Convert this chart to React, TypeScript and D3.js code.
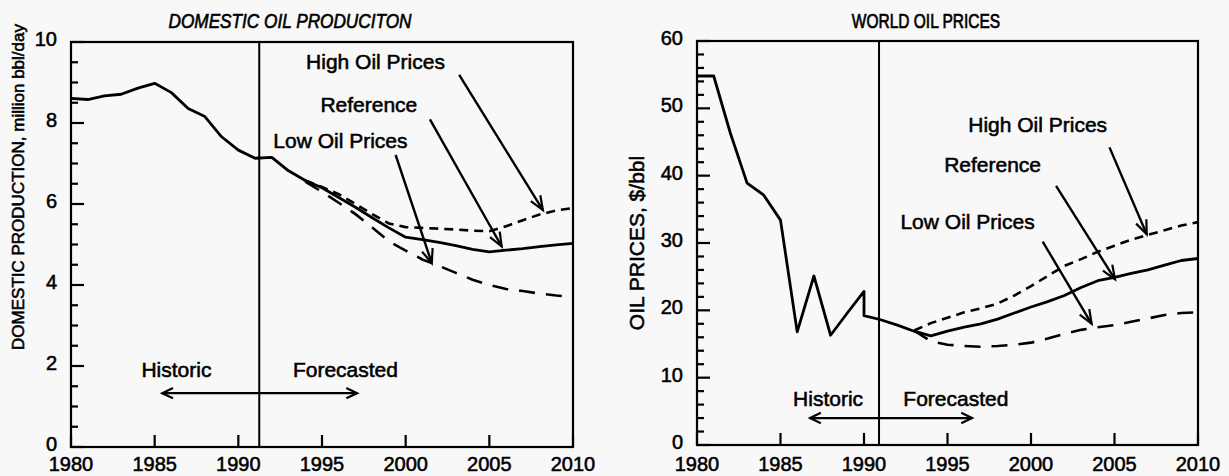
import React, { useEffect, useRef } from 'react';
import * as d3 from 'd3';

// Domestic oil production, million bbl/day
const prodHistYears = [1980, 1981, 1982, 1983, 1984, 1985, 1986, 1987, 1988, 1989, 1990, 1991];
const prodHist = [8.61, 8.58, 8.67, 8.71, 8.86, 8.98, 8.75, 8.36, 8.16, 7.66, 7.33, 7.13];
const prodFcstYears = [1992, 1993, 1994, 1995, 1996, 1997, 1998, 1999, 2000, 2001, 2002, 2003, 2004, 2005, 2006, 2007, 2008, 2009, 2010];
const prodReference = [7.15, 6.82, 6.58, 6.4, 6.16, 5.92, 5.66, 5.41, 5.18, 5.12, 5.05, 4.97, 4.88, 4.82, 4.86, 4.9, 4.95, 4.99, 5.03];
const prodScenYears = [1994, 1995, 1996, 1997, 1998, 1999, 2000, 2001, 2002, 2003, 2004, 2005, 2006, 2007, 2008, 2009, 2010];
const prodHigh = [6.58, 6.42, 6.24, 6.0, 5.75, 5.52, 5.43, 5.41, 5.39, 5.37, 5.34, 5.33, 5.45, 5.6, 5.74, 5.84, 5.9];
const prodLow = [6.55, 6.3, 6.03, 5.75, 5.42, 5.08, 4.85, 4.63, 4.47, 4.3, 4.13, 4.0, 3.9, 3.85, 3.79, 3.74, 3.7];

// World oil prices, $/bbl
const priceHistYears = [1980, 1981, 1982, 1983, 1984, 1985, 1986, 1987, 1988, 1989, 1990];
const priceHist = [54.8, 54.8, 46.3, 38.9, 37.1, 33.4, 16.8, 25.1, 16.3, 19.6, 22.8];
const priceFcstYears = [1990, 1991, 1992, 1993, 1994, 1995, 1996, 1997, 1998, 1999, 2000, 2001, 2002, 2003, 2004, 2005, 2006, 2007, 2008, 2009, 2010];
const priceReference = [19.2, 18.6, 17.8, 16.9, 16.2, 16.9, 17.5, 18.0, 18.7, 19.6, 20.5, 21.3, 22.2, 23.4, 24.4, 24.9, 25.5, 26.0, 26.7, 27.4, 27.7];
const priceScenYears = [1993, 1994, 1995, 1996, 1997, 1998, 1999, 2000, 2001, 2002, 2003, 2004, 2005, 2006, 2007, 2008, 2009, 2010];
const priceHigh = [17.0, 18.1, 18.9, 19.7, 20.3, 21.0, 22.2, 23.6, 25.1, 26.6, 27.6, 28.7, 29.6, 30.5, 31.2, 31.9, 32.6, 33.1];
const priceLow = [17.0, 15.4, 14.9, 14.7, 14.6, 14.7, 14.9, 15.2, 15.8, 16.5, 17.1, 17.5, 17.8, 18.3, 18.8, 19.3, 19.6, 19.7];

const yearTicks = [1980, 1985, 1990, 1995, 2000, 2005, 2010];
const prodTicks = [0, 2, 4, 6, 8, 10];
const priceTicks = [0, 10, 20, 30, 40, 50, 60];

const FONT = '"Liberation Sans", Arial, Helvetica, sans-serif';

const zip = (xs: number[], ys: number[]) => xs.map((v, i) => [v, ys[i]] as [number, number]);

// scanned-print look: slightly heavier glyphs
const ink = (sel: any, size: number) =>
  sel.style('font-family', FONT)
    .style('font-size', `${size}px`)
    .attr('fill', '#000')
    .attr('stroke', '#000')
    .attr('stroke-width', 0.55);

function arrowHead(g: any, x1: number, y1: number, x2: number, y2: number, len: number, spread: number) {
  const a = Math.atan2(y2 - y1, x2 - x1);
  const p1 = [x2 - len * Math.cos(a - spread), y2 - len * Math.sin(a - spread)];
  const p2 = [x2 - len * Math.cos(a + spread), y2 - len * Math.sin(a + spread)];
  g.append('path')
    .attr('d', `M${p1[0]},${p1[1]}L${x2},${y2}L${p2[0]},${p2[1]}`)
    .attr('fill', 'none')
    .attr('stroke', '#000')
    .attr('stroke-width', 2.2);
}

function drawPanel(root: any, p: any) {
  const x = d3.scaleLinear().domain([1980, 2010]).range([p.left, p.right]);
  const y = d3.scaleLinear().domain([0, p.yMax]).range([p.bottom, p.top]);
  const g = root.append('g');

  // frame
  g.append('rect')
    .attr('x', p.left).attr('y', p.top)
    .attr('width', p.right - p.left).attr('height', p.bottom - p.top)
    .attr('fill', 'none').attr('stroke', '#000').attr('stroke-width', 2.2);

  // y ticks (inside), minor + major
  d3.range(0, p.yMax + 1e-6, p.minor).forEach((v: number) => {
    const major = p.yTicks.some((t: number) => Math.abs(t - v) < 1e-6);
    g.append('line')
      .attr('x1', p.left).attr('x2', p.left + (major ? 13 : 7))
      .attr('y1', y(v)).attr('y2', y(v))
      .attr('stroke', '#000').attr('stroke-width', 2.2);
  });
  p.yTicks.forEach((t: number) => {
    ink(g.append('text')
      .attr('x', p.left - 14)
      .attr('y', y(t) + 4)
      .attr('text-anchor', 'end'), 20)
      .text(t);
  });

  // x ticks
  yearTicks.forEach(t => {
    g.append('line')
      .attr('x1', x(t)).attr('x2', x(t))
      .attr('y1', p.bottom).attr('y2', p.bottom - 12)
      .attr('stroke', '#000').attr('stroke-width', 2.2);
    ink(g.append('text')
      .attr('x', x(t))
      .attr('y', 471)
      .attr('text-anchor', 'middle'), 20)
      .text(t);
  });

  // historic / forecast divider
  g.append('line')
    .attr('x1', x(p.divider)).attr('x2', x(p.divider))
    .attr('y1', p.top).attr('y2', p.bottom)
    .attr('stroke', '#000').attr('stroke-width', 2);

  const line = d3.line<[number, number]>().x(d => x(d[0])).y(d => y(d[1]));

  g.append('path')
    .attr('d', line(p.solid))
    .attr('fill', 'none').attr('stroke', '#000')
    .attr('stroke-width', 2.8).attr('stroke-linejoin', 'round');
  g.append('path')
    .attr('d', line(p.high))
    .attr('fill', 'none').attr('stroke', '#000')
    .attr('stroke-width', 2.6).attr('stroke-dasharray', '9,6');
  g.append('path')
    .attr('d', line(p.low))
    .attr('fill', 'none').attr('stroke', '#000')
    .attr('stroke-width', 2.6).attr('stroke-dasharray', '16,11');

  // scenario labels and arrows
  p.notes.forEach((n: any) => {
    ink(g.append('text')
      .attr('x', x(n.tx)).attr('y', y(n.ty))
      .attr('text-anchor', 'middle'), 21)
      .text(n.label);
    const x1 = x(n.from[0]), y1 = y(n.from[1]), x2 = x(n.to[0]), y2 = y(n.to[1]);
    g.append('line')
      .attr('x1', x1).attr('y1', y1).attr('x2', x2).attr('y2', y2)
      .attr('stroke', '#000').attr('stroke-width', 2.4);
    arrowHead(g, x1, y1, x2, y2, 15, 0.38);
  });

  // Historic / Forecasted
  const h = p.hist;
  [['Historic', h.histX], ['Forecasted', h.fcstX]].forEach(([label, tx]: any) => {
    ink(g.append('text')
      .attr('x', x(tx)).attr('y', y(h.textY))
      .attr('text-anchor', 'middle'), 21)
      .text(label);
  });
  const ax1 = x(h.from), ax2 = x(h.to), ay = y(h.arrowY);
  g.append('line')
    .attr('x1', ax1).attr('x2', ax2).attr('y1', ay).attr('y2', ay)
    .attr('stroke', '#000').attr('stroke-width', 2.2);
  arrowHead(g, ax2, ay, ax1, ay, 12, 0.45);
  arrowHead(g, ax1, ay, ax2, ay, 12, 0.45);

  // title
  ink(g.append('text')
    .attr('transform', `translate(${p.titleX},28) scale(1,${p.titleStretch})`)
    .attr('text-anchor', 'middle'), p.titleSize)
    .style('font-style', p.titleItalic ? 'italic' : 'normal')
    .text(p.title);

  // y-axis label
  ink(g.append('text')
    .attr('transform', `translate(${p.ylabX},${p.ylabY}) rotate(-90)`)
    .attr('text-anchor', 'middle')
    .attr('dominant-baseline', 'central'), p.ylabSize)
    .text(p.ylabel);
}

const App = () => {
  const svgRef = useRef<SVGSVGElement>(null);

  useEffect(() => {
    const svg = d3.select(svgRef.current);
    svg.selectAll('*').remove();

    svg.append('rect').attr('width', 1229).attr('height', 476).attr('fill', '#f8f8f8');

    drawPanel(svg, {
      left: 71, right: 573, top: 42, bottom: 447,
      yMax: 10, yTicks: prodTicks, minor: 0.5,
      divider: 1991.25,
      solid: [...zip(prodHistYears, prodHist), ...zip(prodFcstYears, prodReference)],
      high: zip(prodScenYears, prodHigh),
      low: zip(prodScenYears, prodLow),
      notes: [
        { label: 'High Oil Prices', tx: 1998.2, ty: 9.33, from: [2003.2, 9.19], to: [2008.2, 5.85] },
        { label: 'Reference', tx: 1997.8, ty: 8.28, from: [2001.45, 8.09], to: [2005.74, 4.95] },
        { label: 'Low Oil Prices', tx: 1996.1, ty: 7.38, from: [1999.4, 7.21], to: [2001.56, 4.54] },
      ],
      hist: { histX: 1986.3, fcstX: 1996.4, textY: 1.74, from: 1985.45, to: 1997.1, arrowY: 1.33 },
      title: 'DOMESTIC OIL PRODUCITON', titleX: 290, titleSize: 17.2, titleStretch: 1.2, titleItalic: true,
      ylabel: 'DOMESTIC PRODUCTION, million bbl/day', ylabX: 18, ylabY: 187, ylabSize: 17,
    });

    drawPanel(svg, {
      left: 697, right: 1198, top: 41, bottom: 445,
      yMax: 60, yTicks: priceTicks, minor: 2,
      divider: 1990.9,
      solid: [...zip(priceHistYears, priceHist), ...zip(priceFcstYears, priceReference)],
      high: zip(priceScenYears, priceHigh),
      low: zip(priceScenYears, priceLow),
      notes: [
        { label: 'High Oil Prices', tx: 2000.4, ty: 46.5, from: [2004.7, 44.2], to: [2006.93, 31.3] },
        { label: 'Reference', tx: 1997.7, ty: 40.5, from: [2001.5, 38.5], to: [2005.03, 24.6] },
        { label: 'Low Oil Prices', tx: 1996.2, ty: 32.1, from: [2000.7, 30.2], to: [2003.63, 18.0] },
      ],
      hist: { histX: 1987.85, fcstX: 1995.5, textY: 5.8, from: 1986.77, to: 1996.47, arrowY: 4.0 },
      title: 'WORLD OIL PRICES', titleX: 926, titleSize: 15.5, titleStretch: 1.35, titleItalic: false,
      ylabel: 'OIL PRICES, $/bbl', ylabX: 636, ylabY: 243, ylabSize: 21,
    });
  }, []);

  return (
    <svg
      ref={svgRef}
      width={1229}
      height={476}
      style={{ position: 'absolute', left: 0, top: 0 }}
    />
  );
};

export default App;
